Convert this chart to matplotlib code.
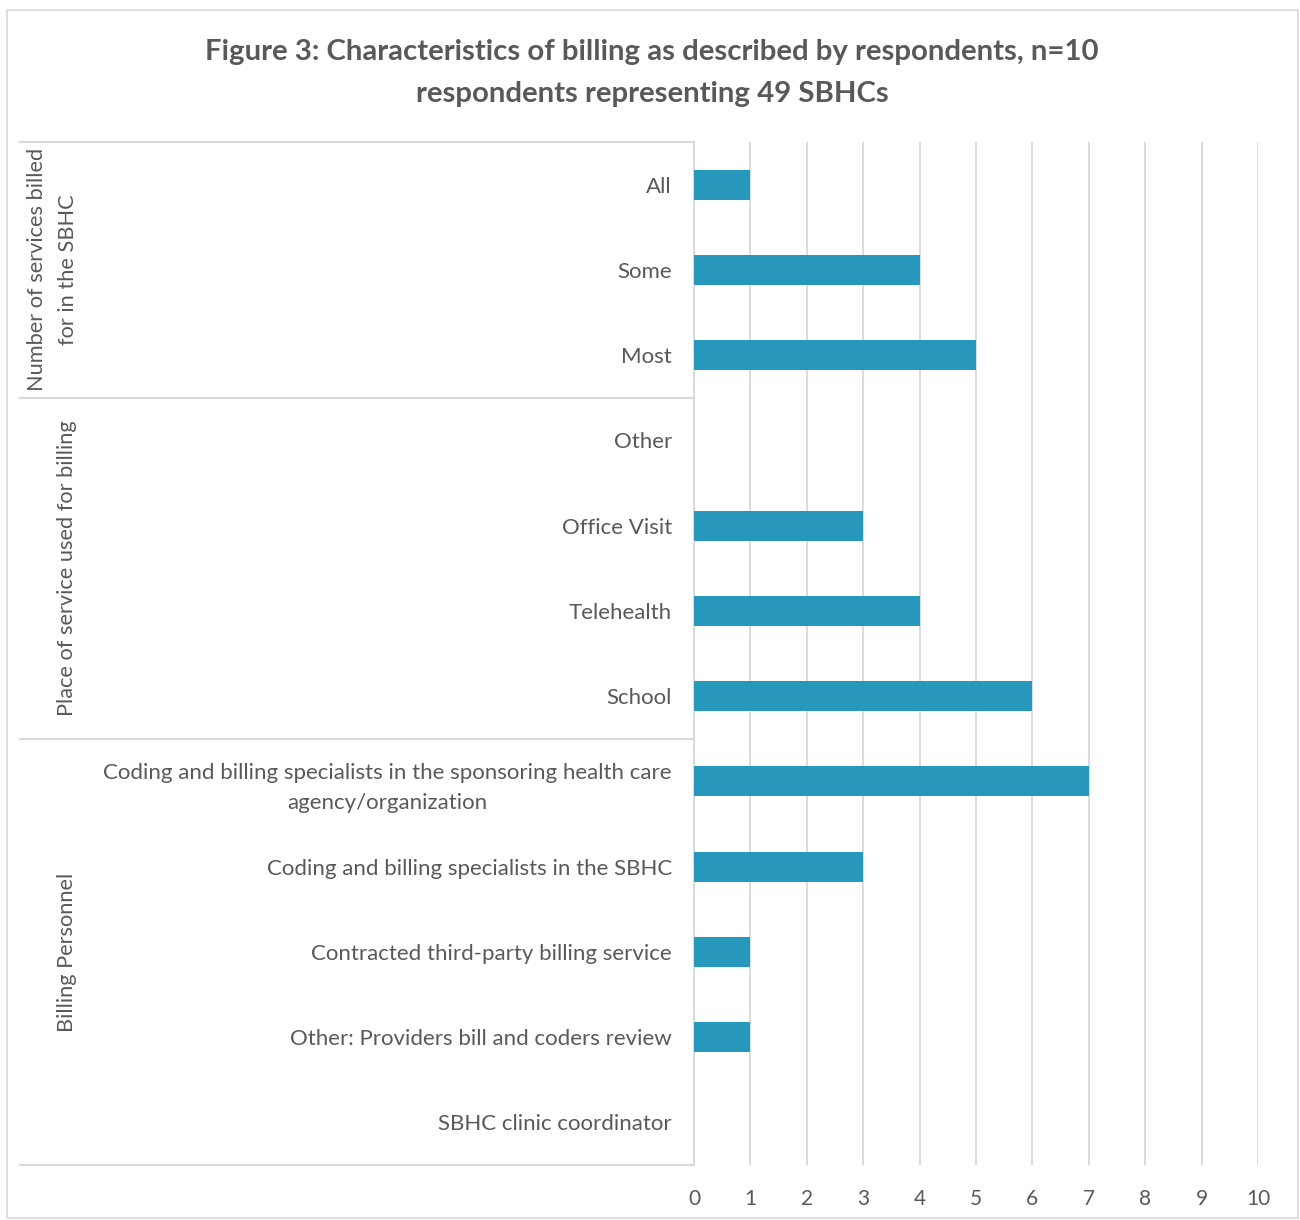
import matplotlib
matplotlib.use("Agg")
import matplotlib.pyplot as plt
from matplotlib.patches import Rectangle
from matplotlib.lines import Line2D
import matplotlib.transforms as mtransforms

plt.rcParams['font.family'] = ['Lato', 'DejaVu Sans']

title = "Figure 3: Characteristics of billing as described by respondents, n=10\nrespondents representing 49 SBHCs"
categories = ["All", "Some", "Most",
              "Other", "Office Visit", "Telehealth", "School",
              "Coding and billing specialists in the sponsoring health care\nagency/organization",
              "Coding and billing specialists in the SBHC",
              "Contracted third-party billing service",
              "Other: Providers bill and coders review",
              "SBHC clinic coordinator"]
values = [1, 4, 5, 0, 3, 4, 6, 7, 3, 1, 1, 0]
groups = ["Number of services billed\nfor in the SBHC", "Place of service used for billing", "Billing Personnel"]
group_sizes = [3, 4, 5]
xticks = list(range(0, 11))

W, H = 1300, 1220
fig = plt.figure(figsize=(W/100, H/100), dpi=100)
text_c = "#595959"
grid_c = "#D9D9D9"
bar_c = "#2798BB"

# outer border
fig.patches.append(Rectangle((7/W, 1 - 1218/H), (1298-7)/W, (1218-10)/H, transform=fig.transFigure,
                             fill=False, edgecolor=grid_c, linewidth=1.2))

left, right, top, bottom = 694, 1258, 142, 1165
ax = fig.add_axes([left/W, 1 - bottom/H, (right-left)/W, (bottom-top)/H])
ypos = list(range(len(categories)))
ax.barh(ypos, values, height=0.35, color=bar_c, zorder=3)
ax.set_xlim(0, 10)
ax.set_ylim(len(categories) - 0.5, -0.5)
ax.set_xticks(xticks)
ax.set_xticklabels([str(t) for t in xticks])
ax.tick_params(axis='x', length=0, colors=text_c, labelsize=15, pad=17)
ax.set_yticks(ypos)
ax.set_yticklabels(categories, fontsize=16, color=text_c, linespacing=1.6, multialignment='center')
ax.tick_params(axis='y', length=0, pad=16)
ax.grid(axis='x', color=grid_c, linewidth=1.3, zorder=0)
for s in ['top', 'right', 'bottom']:
    ax.spines[s].set_visible(False)
ax.spines['left'].set_color(grid_c)
ax.spines['left'].set_linewidth(1.3)

# group separators and labels
trans = mtransforms.blended_transform_factory(fig.transFigure, ax.transData)
bounds = [-0.5]
acc = -0.5
for n in group_sizes:
    acc += n
    bounds.append(acc)
for b in bounds:
    ax.add_line(Line2D([20/W, left/W], [b, b], transform=trans, color=grid_c, linewidth=1.5, clip_on=False))
for i, g in enumerate(groups):
    yc = (bounds[i] + bounds[i+1]) / 2
    xc = 52.5 if "\n" in g else 67
    ax.text(xc/W, yc, g, transform=trans, rotation=90, ha='center', va='center',
            fontsize=15.7, color=text_c, linespacing=1.68)

fig.text(652/W, 1 - 73/H, title, ha='center', va='center', fontsize=21.2, fontweight='bold',
         color=text_c, linespacing=1.75)

fig.savefig("out.png", dpi=100)
